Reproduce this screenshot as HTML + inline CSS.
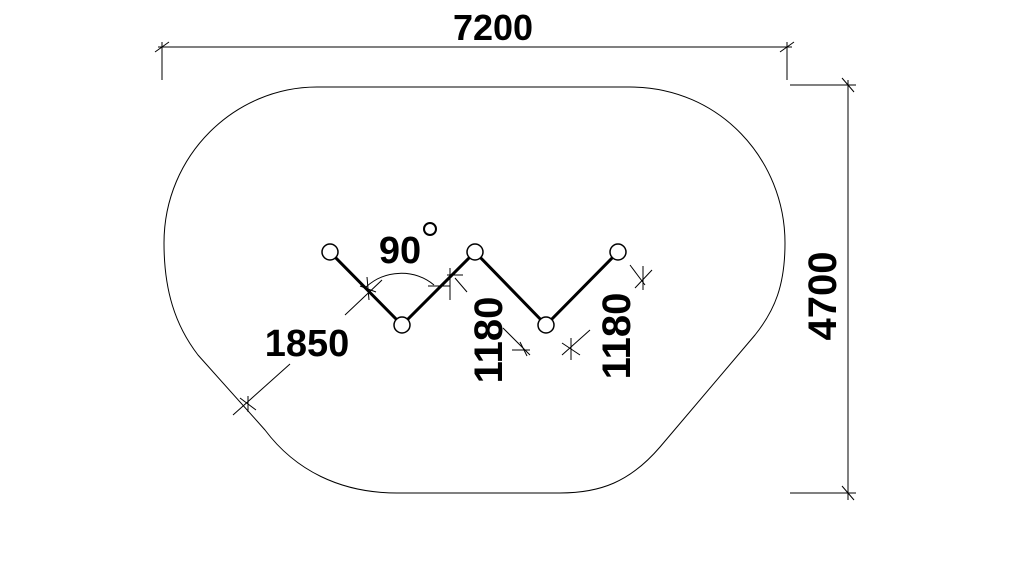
<!DOCTYPE html>
<html><head><meta charset="utf-8"><style>
html,body{margin:0;padding:0;background:#fff;}
svg{display:block}
text{font-family:"Liberation Sans",sans-serif;font-weight:bold;fill:#000}
</style></head><body>
<svg width="1024" height="576" viewBox="0 0 1024 576" xmlns="http://www.w3.org/2000/svg">
<g fill="none" stroke="#000" stroke-width="1">
<!-- outline -->
<path d="M317,87 L630,87 C720,87 785,160 785,243 C785,285 775,310 755,335 L660,447 C630,482 600,493 560,493 L397,493 C340,493 295,470 265,430 L198,355 C175,325 164,290 164,243 C164,155 235,87 317,87 Z"/>
<!-- top dim -->
<line x1="158" y1="47" x2="792" y2="47"/>
<line x1="162" y1="42" x2="162" y2="80"/>
<line x1="787" y1="42" x2="787" y2="80"/>
<line x1="155" y1="52" x2="169" y2="42"/>
<line x1="780" y1="52" x2="794" y2="42"/>
<!-- right dim -->
<line x1="848" y1="80" x2="848" y2="500"/>
<line x1="790" y1="85" x2="856" y2="85"/>
<line x1="790" y1="493" x2="856" y2="493"/>
<line x1="842" y1="78" x2="854" y2="92"/>
<line x1="842" y1="486" x2="854" y2="500"/>
<!-- 1850 dim -->
<line x1="233" y1="415" x2="290" y2="364"/>
<line x1="345" y1="315" x2="382" y2="280"/>
<line x1="248" y1="396" x2="248" y2="412"/>
<line x1="240" y1="398" x2="256" y2="410"/>
<line x1="367" y1="277" x2="369" y2="300"/>
<line x1="360" y1="286" x2="376" y2="292"/>
<!-- angle arc -->
<path d="M366,287 A52,52 0 0 1 434,285"/>
<line x1="428" y1="286" x2="450" y2="286"/>
<line x1="447" y1="275" x2="463" y2="275"/>
<line x1="450" y1="268" x2="450" y2="300"/>
<line x1="455" y1="278" x2="467" y2="292"/>
<!-- 1180 dims -->
<line x1="503" y1="328" x2="530" y2="355"/>
<line x1="512" y1="350" x2="530" y2="350"/>
<line x1="520" y1="342" x2="527" y2="356"/>
<line x1="562" y1="355" x2="590" y2="330"/>
<line x1="571" y1="338" x2="571" y2="360"/>
<line x1="562" y1="343" x2="580" y2="355"/>
<line x1="630" y1="265" x2="645" y2="285"/>
<line x1="635" y1="288" x2="652" y2="270"/>
<line x1="643" y1="266" x2="643" y2="290"/>
</g>
<!-- zigzag -->
<polyline points="330,252 402,325 475,252 546,325 618,252" fill="none" stroke="#000" stroke-width="3"/>
<g fill="#fff" stroke="#000" stroke-width="1.5">
<circle cx="330" cy="252" r="8"/><circle cx="402" cy="325" r="8"/><circle cx="475" cy="252" r="8"/><circle cx="546" cy="325" r="8"/><circle cx="618" cy="252" r="8"/>
</g>
<circle cx="430" cy="229" r="6" fill="none" stroke="#000" stroke-width="2"/>
<text x="493" y="40" font-size="36" text-anchor="middle">7200</text>
<text x="400" y="263" font-size="38" text-anchor="middle">90</text>
<text x="307" y="356" font-size="38" text-anchor="middle">1850</text>
<text transform="translate(502,340) rotate(-90)" font-size="40" text-anchor="middle">1180</text>
<text transform="translate(630,336) rotate(-90)" font-size="40" text-anchor="middle">1180</text>
<text transform="translate(836,296) rotate(-90)" font-size="40" text-anchor="middle">4700</text>
</svg>
</body></html>
